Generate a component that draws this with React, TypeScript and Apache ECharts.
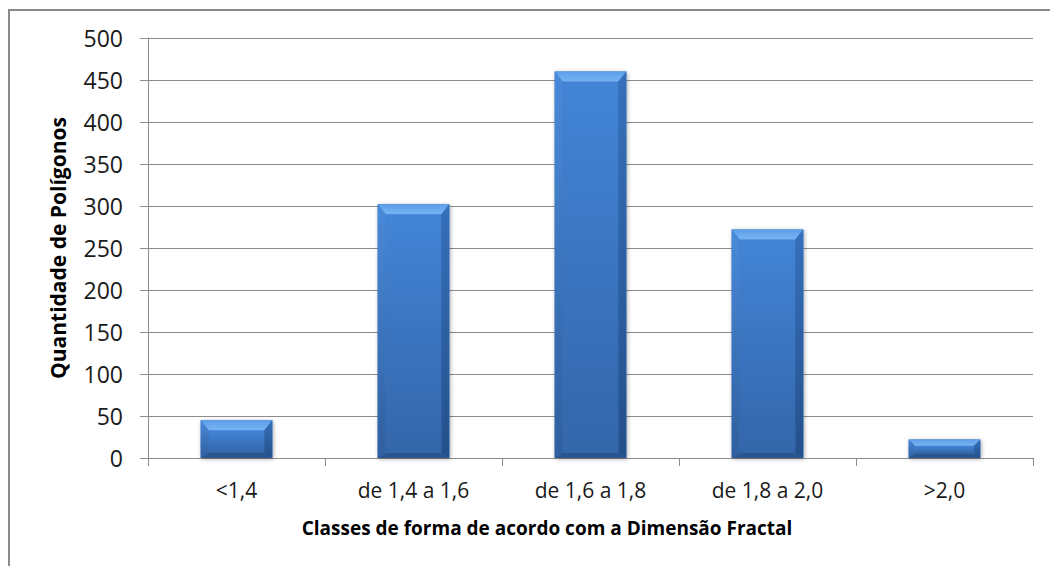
import React, { useEffect, useRef } from "react";
import * as echarts from "echarts";

const categories = ["<1,4", "de 1,4 a 1,6", "de 1,6 a 1,8", "de 1,8 a 2,0", ">2,0"];
const values = [45, 302, 460, 272, 22];
const yTicks = { min: 0, max: 500, interval: 50 };
const yTitle = "Quantidade de Polígonos";
const xTitle = "Classes de forma de acordo com a Dimensão Fractal";

const FONT = "'Open Sans', sans-serif";

export default function App() {
  const ref = useRef<HTMLDivElement>(null);
  useEffect(() => {
    if (!ref.current) return;
    const chart = echarts.init(ref.current, undefined, { renderer: "svg" });
    const option: any = {
      animation: false,
      backgroundColor: "#ffffff",
      grid: { left: 148, right: 17, top: 38, bottom: 108, containLabel: false },
      xAxis: {
        type: "category",
        data: categories,
        boundaryGap: true,
        axisLine: { show: true, lineStyle: { color: "#8c8c8c", width: 1 } },
        axisTick: { show: true, alignWithLabel: false, length: 8, lineStyle: { color: "#8c8c8c" } },
        axisLabel: { margin: 21, color: "#1a1a1a", fontSize: 21, fontFamily: FONT },
        splitLine: { show: false },
      },
      yAxis: {
        type: "value",
        min: yTicks.min,
        max: yTicks.max,
        interval: yTicks.interval,
        name: yTitle,
        nameLocation: "middle",
        nameGap: 80,
        nameTextStyle: { fontSize: 21, fontWeight: "bold", color: "#000", fontFamily: FONT },
        axisLine: { show: true, lineStyle: { color: "#8c8c8c", width: 1 } },
        axisTick: { show: true, length: 8, inside: false, lineStyle: { color: "#8c8c8c" } },
        axisLabel: { margin: 25, color: "#1a1a1a", fontSize: 23, fontFamily: FONT },
        splitLine: { show: true, lineStyle: { color: "#8c8c8c", width: 1 } },
      },
      graphic: [
        {
          type: "polyline",
          shape: { points: [[9, 566], [9, 10], [1050, 10]] },
          style: { stroke: "#8a8a8a", lineWidth: 2, fill: "none" },
          z: 100,
        },
        {
          type: "text",
          x: 547,
          y: 528,
          style: {
            text: xTitle,
            fontSize: 19,
            fontWeight: "bold",
            fontFamily: FONT,
            fill: "#000",
            align: "center",
            verticalAlign: "middle",
          },
        },
      ],
      series: [
        {
          type: "custom",
          data: values.map((v, i) => [i, v]),
          encode: { x: 0, y: 1 },
          renderItem: (params: any, api: any) => {
            const v = api.value(1);
            const base = api.coord([api.value(0), 0]);
            const top = api.coord([api.value(0), v]);
            const bandW = api.size([1, 0])[0];
            const w = bandW * 0.405;
            const x0 = base[0] - w / 2;
            const x1 = base[0] + w / 2;
            const y0 = top[1];
            const y1 = base[1];
            const h = y1 - y0;
            const bt = Math.min(10, h / 3);
            const bs = Math.min(8, h / 3);
            const bb = Math.min(5, h / 4);
            return {
              type: "group",
              children: [
                {
                  type: "rect",
                  shape: { x: x0, y: y0, width: w, height: h },
                  style: {
                    fill: "#3a74c0",
                    shadowBlur: 4,
                    shadowOffsetX: 1,
                    shadowOffsetY: 1,
                    shadowColor: "rgba(0,0,0,0.35)",
                  },
                },
                {
                  type: "rect",
                  shape: { x: x0 + bs, y: y0 + bt, width: w - 2 * bs, height: Math.max(0, h - bt - bb) },
                  style: {
                    fill: new echarts.graphic.LinearGradient(0, 0, 0, 1, [
                      { offset: 0, color: "#4284d6" },
                      { offset: 1, color: "#3466aa" },
                    ]),
                  },
                },
                {
                  type: "polygon",
                  shape: { points: [[x0, y0], [x1, y0], [x1 - bs, y0 + bt], [x0 + bs, y0 + bt]] },
                  style: {
                    fill: new echarts.graphic.LinearGradient(0, 0, 0, 1, [
                      { offset: 0, color: "#5c9ee8" },
                      { offset: 1, color: "#78b4f4" },
                    ]),
                  },
                },
                {
                  type: "polygon",
                  shape: { points: [[x0, y0], [x0 + bs, y0 + bt], [x0 + bs, y1 - bb], [x0, y1]] },
                  style: {
                    fill: new echarts.graphic.LinearGradient(0, 0, 0, 1, [
                      { offset: 0, color: "#4a8ada" },
                      { offset: 1, color: "#2f5f9e" },
                    ]),
                  },
                },
                {
                  type: "polygon",
                  shape: { points: [[x1, y0], [x1 - bs, y0 + bt], [x1 - bs, y1 - bb], [x1, y1]] },
                  style: {
                    fill: new echarts.graphic.LinearGradient(0, 0, 0, 1, [
                      { offset: 0, color: "#3670bb" },
                      { offset: 1, color: "#24508a" },
                    ]),
                  },
                },
                {
                  type: "polygon",
                  shape: { points: [[x0, y1], [x0 + bs, y1 - bb], [x1 - bs, y1 - bb], [x1, y1]] },
                  style: { fill: "#2a5690" },
                },
              ],
            };
          },
        },
      ],
    };
    chart.setOption(option);
    return () => chart.dispose();
  }, []);
  return (
    <div
      ref={ref}
      style={{ position: "fixed", left: 0, top: 0, width: 1050, height: 566 }}
    />
  );
}
